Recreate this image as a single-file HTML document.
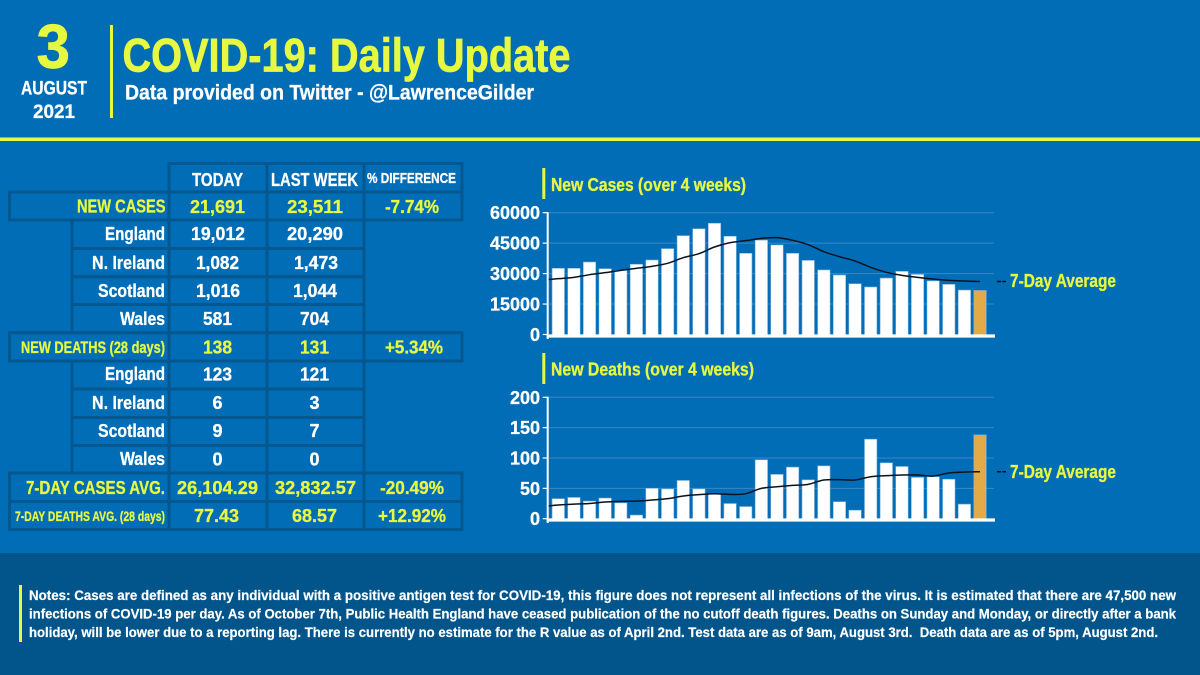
<!DOCTYPE html>
<html lang="en">
<head>
<meta charset="utf-8">
<title>COVID-19: Daily Update</title>
<style>
html,body{margin:0;padding:0;background:#016db7;width:1200px;height:675px;overflow:hidden}
svg{display:block}
text{font-family:"Liberation Sans",Arial,sans-serif;font-weight:bold;stroke-width:.3px;white-space:pre}
.w{fill:#fff;stroke:#fff}.y{fill:#e7f840;stroke:#e7f840}
.big{stroke-width:.7px}
.cell{fill:none;stroke:#04578f;stroke-width:3}
.t19{font-size:18.5px}.t17{font-size:16.5px}.t14{font-size:13.5px}.n{font-size:14px;stroke-width:.2px}
</style>
</head>
<body>
<svg id="page" xmlns="http://www.w3.org/2000/svg" width="1200" height="675" viewBox="0 0 1200 675">
<rect width="1200" height="675" fill="#016db7"/>
<rect y="553" width="1200" height="122" fill="#02558b"/>
<rect y="137.5" width="1200" height="3.5" fill="#e7f840"/>
<rect x="110" y="25" width="3" height="93" fill="#e7f840"/>

<text class="y big" x="36.5" y="68" font-size="62" textLength="33.5" lengthAdjust="spacingAndGlyphs">3</text>
<text class="w" x="21" y="94.5" font-size="19" textLength="66" lengthAdjust="spacingAndGlyphs">AUGUST</text>
<text class="w" x="33" y="118" font-size="19" textLength="42" lengthAdjust="spacingAndGlyphs">2021</text>
<text class="y big" x="122.5" y="71.5" font-size="47.5" textLength="448" lengthAdjust="spacingAndGlyphs">COVID-19: Daily Update</text>
<text class="w" x="125" y="99.5" font-size="21" textLength="409" lengthAdjust="spacingAndGlyphs">Data provided on Twitter - @LawrenceGilder</text>

<g>
  <g>
    <rect class="cell" x="169" y="163.5" width="98" height="28.5"/>
    <rect class="cell" x="267" y="163.5" width="97" height="28.5"/>
    <rect class="cell" x="364" y="163.5" width="98" height="28.5"/>
    <rect class="cell" x="9.5" y="192" width="159.5" height="28"/>
    <rect class="cell" x="169" y="192" width="98" height="28"/>
    <rect class="cell" x="267" y="192" width="97" height="28"/>
    <rect class="cell" x="364" y="192" width="98" height="28"/>
    <path class="cell" d="M72 220V332.7M169 220V332.7M267 220V332.7M364 220V332.7M72 248.5H364M72 276.7H364M72 304.5H364"/>
    <rect class="cell" x="9.5" y="332.7" width="159.5" height="28.3"/>
    <rect class="cell" x="169" y="332.7" width="98" height="28.3"/>
    <rect class="cell" x="267" y="332.7" width="97" height="28.3"/>
    <rect class="cell" x="364" y="332.7" width="98" height="28.3"/>
    <path class="cell" d="M72 361V473M169 361V473M267 361V473M364 361V473M72 389H364M72 417.5H364M72 445.5H364"/>
    <rect class="cell" x="9.5" y="473" width="159.5" height="28.5"/>
    <rect class="cell" x="169" y="473" width="98" height="28.5"/>
    <rect class="cell" x="267" y="473" width="97" height="28.5"/>
    <rect class="cell" x="364" y="473" width="98" height="28.5"/>
    <rect class="cell" x="9.5" y="501.5" width="159.5" height="28"/>
    <rect class="cell" x="169" y="501.5" width="98" height="28"/>
    <rect class="cell" x="267" y="501.5" width="97" height="28"/>
    <rect class="cell" x="364" y="501.5" width="98" height="28"/>
  </g>

  <text class="w t19" x="192" y="186" textLength="51" lengthAdjust="spacingAndGlyphs">TODAY</text>
  <text class="w t19" x="271" y="186" textLength="87" lengthAdjust="spacingAndGlyphs">LAST WEEK</text>
  <text class="w" font-size="15" x="367" y="183" textLength="89" lengthAdjust="spacingAndGlyphs">% DIFFERENCE</text>

  <text class="y t19" x="77" y="212.7" textLength="88.5" lengthAdjust="spacingAndGlyphs">NEW CASES</text>
  <text class="y t19" x="190" y="213" textLength="55" lengthAdjust="spacingAndGlyphs">21,691</text>
  <text class="y t19" x="287" y="213" textLength="56" lengthAdjust="spacingAndGlyphs">23,511</text>
  <text class="y t19" x="385" y="213" textLength="54" lengthAdjust="spacingAndGlyphs">-7.74%</text>

  <text class="w t19" x="105" y="240" textLength="60" lengthAdjust="spacingAndGlyphs">England</text>
  <text class="w t19" x="191" y="240" textLength="54" lengthAdjust="spacingAndGlyphs">19,012</text>
  <text class="w t19" x="287" y="240" textLength="56" lengthAdjust="spacingAndGlyphs">20,290</text>

  <text class="w t19" x="92" y="269" textLength="73" lengthAdjust="spacingAndGlyphs">N. Ireland</text>
  <text class="w t19" x="196" y="269" textLength="43" lengthAdjust="spacingAndGlyphs">1,082</text>
  <text class="w t19" x="294" y="269" textLength="44" lengthAdjust="spacingAndGlyphs">1,473</text>

  <text class="w t19" x="98" y="297" textLength="67" lengthAdjust="spacingAndGlyphs">Scotland</text>
  <text class="w t19" x="196" y="297" textLength="44" lengthAdjust="spacingAndGlyphs">1,016</text>
  <text class="w t19" x="293" y="297" textLength="44" lengthAdjust="spacingAndGlyphs">1,044</text>

  <text class="w t19" x="120" y="325" textLength="45" lengthAdjust="spacingAndGlyphs">Wales</text>
  <text class="w t19" x="203" y="325" textLength="29" lengthAdjust="spacingAndGlyphs">581</text>
  <text class="w t19" x="300" y="325" textLength="29" lengthAdjust="spacingAndGlyphs">704</text>

  <text class="y t17" x="21" y="353" textLength="144" lengthAdjust="spacingAndGlyphs">NEW DEATHS (28 days)</text>
  <text class="y t19" x="203" y="353.5" textLength="29" lengthAdjust="spacingAndGlyphs">138</text>
  <text class="y t19" x="300" y="353.5" textLength="29" lengthAdjust="spacingAndGlyphs">131</text>
  <text class="y t19" x="385" y="353.5" textLength="58" lengthAdjust="spacingAndGlyphs">+5.34%</text>

  <text class="w t19" x="105" y="380" textLength="60" lengthAdjust="spacingAndGlyphs">England</text>
  <text class="w t19" x="203" y="380.5" textLength="29" lengthAdjust="spacingAndGlyphs">123</text>
  <text class="w t19" x="300" y="380.5" textLength="29" lengthAdjust="spacingAndGlyphs">121</text>

  <text class="w t19" x="92" y="409" textLength="73" lengthAdjust="spacingAndGlyphs">N. Ireland</text>
  <text class="w t19" x="212.5" y="409" textLength="10" lengthAdjust="spacingAndGlyphs">6</text>
  <text class="w t19" x="309.5" y="409" textLength="10" lengthAdjust="spacingAndGlyphs">3</text>

  <text class="w t19" x="98" y="437" textLength="67" lengthAdjust="spacingAndGlyphs">Scotland</text>
  <text class="w t19" x="212.5" y="437" textLength="10" lengthAdjust="spacingAndGlyphs">9</text>
  <text class="w t19" x="309.5" y="437" textLength="10" lengthAdjust="spacingAndGlyphs">7</text>

  <text class="w t19" x="120" y="465" textLength="45" lengthAdjust="spacingAndGlyphs">Wales</text>
  <text class="w t19" x="212.5" y="465.5" textLength="10" lengthAdjust="spacingAndGlyphs">0</text>
  <text class="w t19" x="309.5" y="465.5" textLength="10" lengthAdjust="spacingAndGlyphs">0</text>

  <text class="y t19" x="26" y="494" textLength="139" lengthAdjust="spacingAndGlyphs">7-DAY CASES AVG.</text>
  <text class="y t19" x="177" y="494" textLength="81" lengthAdjust="spacingAndGlyphs">26,104.29</text>
  <text class="y t19" x="275" y="494" textLength="81" lengthAdjust="spacingAndGlyphs">32,832.57</text>
  <text class="y t19" x="380" y="494" textLength="64" lengthAdjust="spacingAndGlyphs">-20.49%</text>

  <text class="y t14" x="15" y="521" textLength="150" lengthAdjust="spacingAndGlyphs">7-DAY DEATHS AVG. (28 days)</text>
  <text class="y t19" x="194" y="522" textLength="45" lengthAdjust="spacingAndGlyphs">77.43</text>
  <text class="y t19" x="292" y="522" textLength="45" lengthAdjust="spacingAndGlyphs">68.57</text>
  <text class="y t19" x="378" y="522" textLength="68" lengthAdjust="spacingAndGlyphs">+12.92%</text>
</g>

<rect x="542.3" y="168" width="3" height="31" fill="#e7f840"/>
<text class="y" font-size="18" x="551" y="191" textLength="195" lengthAdjust="spacingAndGlyphs">New Cases (over 4 weeks)</text>
<rect x="542.3" y="353" width="3" height="31" fill="#e7f840"/>
<text class="y" font-size="18" x="551" y="375.7" textLength="203" lengthAdjust="spacingAndGlyphs">New Deaths (over 4 weeks)</text>

<g id="cases-chart"></g>
<g id="deaths-chart"></g>

<text class="y t19" x="1010" y="287" textLength="106" lengthAdjust="spacingAndGlyphs">7-Day Average</text>
<text class="y t19" x="1010" y="478" textLength="106" lengthAdjust="spacingAndGlyphs">7-Day Average</text>

<rect x="19" y="585" width="3" height="57" fill="#e7f840"/>
<g>
  <text class="w n" x="29" y="600" textLength="1147" lengthAdjust="spacingAndGlyphs">Notes: Cases are defined as any individual with a positive antigen test for COVID-19, this figure does not represent all infections of the virus. It is estimated that there are 47,500 new</text>
  <text class="w n" x="29" y="618.5" textLength="1147" lengthAdjust="spacingAndGlyphs">infections of COVID-19 per day. As of October 7th, Public Health England have ceased publication of the no cutoff death figures. Deaths on Sunday and Monday, or directly after a bank</text>
  <text class="w n" x="29" y="637" textLength="1129" lengthAdjust="spacingAndGlyphs">holiday, will be lower due to a reporting lag. There is currently no estimate for the R value as of April 2nd. Test data are as of 9am, August 3rd.  Death data are as of 5pm, August 2nd.</text>
</g>
</svg>
<script>
const casesValues = [32600,32600,35700,32400,31600,34600,36700,42300,48700,52100,54800,48400,40000,46500,44100,40000,36500,31800,29300,25000,23400,27800,31100,29600,26400,24700,21900,21691];
const casesAverage = [27500,28160,29470,30460,31600,32600,33580,35060,37850,39820,43100,45240,46220,47370,47700,46390,44250,40800,38340,36200,33090,30620,29150,28160,27340,26680,26350,26104];
const casesLineStart = 27100;
const casesTicks = [0,15000,30000,45000,60000];
const deathsValues = [33,35,29,34,26,6,50,49,63,49,41,25,20,97,73,85,64,87,28,14,131,92,86,68,69,65,24,138];
const deathsAverage = [22.5,24,25,27.5,28.5,29,30.8,33,37.4,39.6,41.2,40,41.2,50,52.7,54.9,56.6,63.7,64.3,63.7,69.2,70.9,72,72,70.3,75.2,76.9,77.43];
const deathsLineStart = 21;
const deathsTicks = [0,50,100,150,200];

const NS = 'http://www.w3.org/2000/svg';

function make(parent, tag, attrs) {
  const el = document.createElementNS(NS, tag);
  Object.keys(attrs).forEach(function (k) { el.setAttribute(k, attrs[k]); });
  parent.appendChild(el);
  return el;
}

function smoothPath(pts) {
  let d = 'M' + pts[0][0].toFixed(2) + ' ' + pts[0][1].toFixed(2);
  for (let i = 0; i < pts.length - 1; i++) {
    const p0 = pts[Math.max(i - 1, 0)], p1 = pts[i], p2 = pts[i + 1], p3 = pts[Math.min(i + 2, pts.length - 1)];
    d += 'C' + (p1[0] + (p2[0] - p0[0]) / 6).toFixed(2) + ' ' + (p1[1] + (p2[1] - p0[1]) / 6).toFixed(2) + ' ' +
      (p2[0] - (p3[0] - p1[0]) / 6).toFixed(2) + ' ' + (p2[1] - (p3[1] - p1[1]) / 6).toFixed(2) + ' ' +
      p2[0].toFixed(2) + ' ' + p2[1].toFixed(2);
  }
  return d;
}

function drawChart(rootId, values, average, lineStart, ticks, yTop, yZero, yBase) {
  const root = document.getElementById(rootId);
  const maxTick = ticks[ticks.length - 1];
  const xLeft = 547.7, xRight = 994, first = 558.3, step = 15.62, barW = 12.4;
  const xScale = function (i) { return first + i * step; };
  const yScale = function (v) { return yZero - (v / maxTick) * (yZero - yTop); };

  ticks.forEach(function (t) {
    if (t !== 0) {
      const grid = make(root, 'line', {x1: xLeft, x2: xRight, y1: yScale(t), y2: yScale(t), stroke: '#3a87c3', 'stroke-width': 1});
      
      
    }
    const mark = make(root, 'line', {x1: xLeft - 5, x2: xLeft, y1: yScale(t), y2: yScale(t), stroke: '#fff', 'stroke-width': 1.2});
    
    
    const label = make(root, 'text', {x: 540, y: yScale(t) + 6.5, 'text-anchor': 'end', 'font-size': 18, 'class': 'w'});
    
    
    label.textContent = String(t);
  });

  values.forEach(function (v, i) {
    const last = i === values.length - 1;
    const bar = make(root, 'rect', {
      x: xScale(i) - barW / 2, y: yScale(v), width: barW, height: yBase - yScale(v),
      fill: last ? '#e3ab47' : '#fff', stroke: '#7db4dc', 'stroke-width': 0.6
    });
    
    
  });

  const yAxis = make(root, 'line', {x1: xLeft, x2: xLeft, y1: yTop - 0.5, y2: yBase + 3, stroke: '#fff', 'stroke-width': 2});
  
  
  const xAxis = make(root, 'line', {x1: xLeft - 1, x2: xRight + 1, y1: yBase, y2: yBase, stroke: '#fff', 'stroke-width': 3.2});
  
  

  const pts = [[xLeft + 1, yScale(lineStart)]].concat(average.map(function (v, i) { return [xScale(i), yScale(v)]; }));
  const line = make(root, 'path', {d: smoothPath(pts), fill: 'none', stroke: '#07141f', 'stroke-width': 1.5, 'stroke-linejoin': 'round'});
  
  

  const endY = pts[pts.length - 1][1];
  const dash = make(root, 'line', {x1: 997, x2: 1006, y1: endY, y2: endY, stroke: '#07141f', 'stroke-width': 1.5, 'stroke-dasharray': '4 1.2'});
  
  
}

drawChart('cases-chart', casesValues, casesAverage, casesLineStart, casesTicks, 212.7, 334.5, 336);
drawChart('deaths-chart', deathsValues, deathsAverage, deathsLineStart, deathsTicks, 397.3, 518.7, 520);
</script>
</body>
</html>
